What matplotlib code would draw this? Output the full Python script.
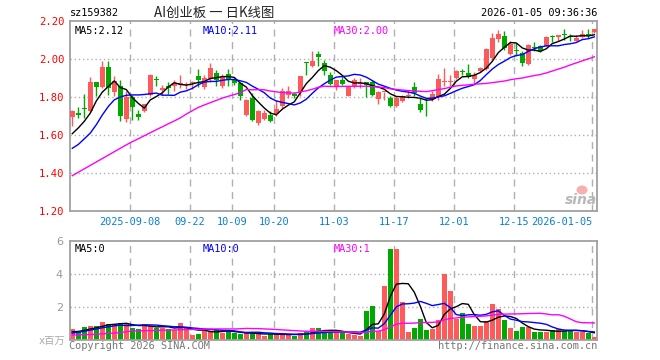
import numpy as np
import pandas as pd
import matplotlib
matplotlib.use("Agg")
import matplotlib.pyplot as plt
from matplotlib.patches import Ellipse

# ---- daily K-line of sz159382 (price: yuan, volume: millions) ----
opens = [1.693, 1.718, 1.744, 1.724, 1.877, 1.853, 1.956, 1.826, 1.860, 1.686,
         1.800, 1.709, 1.724, 1.810, 1.892, 1.839, 1.860, 1.860, 1.865, 1.862,
         1.872, 1.910, 1.853, 1.895, 1.928, 1.856, 1.922, 1.895, 1.874, 1.707,
         1.795, 1.663, 1.684, 1.707, 1.710, 1.755, 1.812, 1.816, 1.825, 1.984,
         1.961, 2.028, 1.979, 1.918, 1.860, 1.888, 1.807, 1.853, 1.867, 1.877,
         1.877, 1.789, 1.825, 1.795, 1.754, 1.777, 1.804, 1.853, 1.765, 1.749,
         1.790, 1.800, 1.881, 1.880, 1.900, 1.936, 1.926, 1.893, 1.935, 1.947,
         2.005, 2.107, 2.123, 2.026, 2.045, 2.032, 1.975, 2.062, 2.070, 2.070,
         2.117, 2.116, 2.129, 2.121, 2.093, 2.116, 2.133, 2.140]
highs = [1.733, 1.745, 1.816, 1.905, 1.880, 1.987, 1.990, 1.909, 1.890, 1.830,
         1.810, 1.733, 1.765, 1.920, 1.909, 1.865, 1.880, 1.890, 1.915, 1.880,
         1.885, 1.945, 1.915, 1.980, 1.940, 1.920, 1.950, 1.900, 1.880, 1.790,
         1.821, 1.730, 1.730, 1.725, 1.786, 1.848, 1.857, 1.825, 1.909, 1.984,
         2.040, 2.040, 1.993, 1.930, 1.891, 1.909, 1.860, 1.900, 1.900, 1.877,
         1.891, 1.830, 1.828, 1.804, 1.804, 1.812, 1.835, 1.877, 1.795, 1.795,
         1.830, 1.920, 1.953, 1.918, 1.944, 1.947, 1.975, 1.930, 1.960, 2.058,
         2.135, 2.154, 2.145, 2.095, 2.084, 2.040, 2.079, 2.090, 2.075, 2.123,
         2.128, 2.128, 2.158, 2.133, 2.128, 2.154, 2.158, 2.158]
lows = [1.650, 1.690, 1.690, 1.720, 1.803, 1.850, 1.810, 1.803, 1.675, 1.670,
        1.681, 1.680, 1.720, 1.805, 1.856, 1.812, 1.815, 1.832, 1.848, 1.840,
        1.840, 1.855, 1.840, 1.878, 1.860, 1.850, 1.860, 1.865, 1.785, 1.700,
        1.672, 1.655, 1.680, 1.667, 1.702, 1.742, 1.795, 1.795, 1.805, 1.918,
        1.958, 1.965, 1.918, 1.865, 1.835, 1.865, 1.804, 1.848, 1.848, 1.800,
        1.807, 1.761, 1.786, 1.750, 1.750, 1.772, 1.795, 1.807, 1.720, 1.702,
        1.777, 1.786, 1.856, 1.860, 1.893, 1.915, 1.900, 1.870, 1.932, 1.944,
        1.995, 2.090, 2.050, 2.020, 2.014, 1.962, 1.970, 2.042, 2.035, 2.067,
        2.088, 2.095, 2.102, 2.093, 2.093, 2.112, 2.112, 2.137]
closes = [1.724, 1.703, 1.737, 1.877, 1.853, 1.958, 1.850, 1.886, 1.702, 1.800,
          1.747, 1.697, 1.762, 1.917, 1.888, 1.847, 1.850, 1.875, 1.872, 1.868,
          1.878, 1.890, 1.898, 1.953, 1.890, 1.905, 1.893, 1.875, 1.804, 1.784,
          1.681, 1.725, 1.716, 1.672, 1.737, 1.830, 1.830, 1.804, 1.909, 1.979,
          1.991, 2.011, 1.935, 1.868, 1.888, 1.868, 1.856, 1.888, 1.874, 1.865,
          1.812, 1.825, 1.828, 1.754, 1.795, 1.804, 1.812, 1.823, 1.733, 1.745,
          1.815, 1.896, 1.884, 1.884, 1.935, 1.933, 1.904, 1.918, 1.953, 2.054,
          2.110, 2.132, 2.058, 2.079, 2.043, 1.979, 2.075, 2.060, 2.040, 2.116,
          2.115, 2.128, 2.127, 2.118, 2.110, 2.133, 2.119, 2.158]
volumes = [0.67, 0.50, 0.79, 0.87, 0.87, 1.11, 0.95, 0.95, 1.05, 1.00,
           0.71, 0.67, 0.97, 0.87, 0.75, 0.75, 0.67, 0.59, 1.03, 0.71,
           0.30, 0.38, 0.60, 0.55, 0.63, 0.42, 0.55, 0.40, 0.36, 0.40,
           0.40, 0.40, 0.26, 0.38, 0.34, 0.34, 0.34, 0.26, 0.40, 0.46,
           0.73, 0.73, 0.55, 0.46, 0.46, 0.46, 0.34, 0.30, 0.24, 1.76,
           2.06, 0.55, 3.27, 5.52, 5.52, 2.28, 0.46, 0.71, 1.25, 0.61,
           0.67, 1.21, 3.98, 2.97, 1.27, 1.62, 0.97, 0.85, 0.85, 1.15,
           2.18, 1.88, 1.21, 0.71, 0.55, 0.79, 0.79, 0.46, 0.46, 0.46,
           0.59, 0.67, 0.55, 0.59, 0.50, 0.50, 0.40, 0.20]

# moving-average values at the left edge (they use days before the window)
ma5_head = [1.607, 1.637, 1.672, 1.715]
ma10_head = [1.53, 1.55, 1.58, 1.61, 1.654, 1.705, 1.75, 1.785, 1.80]
ma30_head = [1.386, 1.404, 1.422, 1.440, 1.458, 1.476, 1.494, 1.512, 1.530, 1.548,
             1.565, 1.580, 1.596, 1.612, 1.628, 1.643, 1.659, 1.674, 1.690, 1.710,
             1.728, 1.745, 1.758, 1.770, 1.782, 1.794, 1.804, 1.813, 1.822]
vma5_head = [0.50, 0.52, 0.58, 0.67]
vma10_head = [0.42, 0.47, 0.53, 0.60, 0.67, 0.74, 0.80, 0.86, 0.90]
vma30_head = [0.30, 0.31, 0.32, 0.33, 0.35, 0.37, 0.40, 0.42, 0.45, 0.50,
              0.55, 0.55, 0.56, 0.57, 0.58, 0.59, 0.60, 0.61, 0.62, 0.63,
              0.64, 0.65, 0.66, 0.67, 0.67, 0.67, 0.67, 0.67, 0.68]

# latest MA readouts as printed on the chart
ma_text = ["MA5:2.12", "MA10:2.11", "MA30:2.00"]
vma_text = ["MA5:0", "MA10:0", "MA30:1"]

holidays = ["2025-10-01", "2025-10-02", "2025-10-03", "2025-10-06", "2025-10-07",
            "2025-10-08", "2026-01-01", "2026-01-02"]
tick_dates = ["2025-09-08", "2025-09-22", "2025-10-09", "2025-10-20", "2025-11-03",
              "2025-11-17", "2025-12-01", "2025-12-15", "2026-01-05"]
tick_labels = ["2025-09-08", "09-22", "10-09", "10-20", "11-03",
               "11-17", "12-01", "12-15", "2026-01-05"]

RED = "#ff5a5a"
GREEN = "#00a800"
GRID = "#b0b0b0"
FRAME = "#a0a0a0"
MA_COLORS = ["black", "#0000ff", "#ff00ff"]
MONO = "DejaVu Sans Mono"
CJK = ["Noto Sans CJK SC", "DejaVu Sans"]


def moving_avg(vals, n, head):
    vals = np.asarray(vals, dtype=float)
    tail = np.convolve(vals, np.ones(n) / n, mode="valid")
    return np.concatenate([head, tail])


days = pd.bdate_range("2025-08-25", "2026-01-05")
days = days[~days.isin(pd.to_datetime(holidays))]
x = np.arange(len(days))
tick_x = [days.get_loc(pd.Timestamp(d)) - 0.35 for d in tick_dates]

o, h, l, c = (np.asarray(a) for a in (opens, highs, lows, closes))
colors = np.where(c >= o, RED, GREEN)

W, H = 660, 360
fig = plt.figure(figsize=(W / 100, H / 100), dpi=100)
ax = fig.add_axes([70 / W, 1 - 211 / H, 527 / W, 190 / H])
axv = fig.add_axes([70 / W, 1 - 340 / H, 527 / W, 99 / H])

for a in (ax, axv):
    a.set_xlim(-0.38, 87.45)
    for s in a.spines.values():
        s.set_color(FRAME)
        s.set_linewidth(1.3)
    for t in tick_x:
        a.axvline(t, color=GRID, lw=1, ls=(0, (5, 4)), zorder=0)

# --- price panel ---
ax.set_ylim(1.2, 2.2)
for yv in (1.4, 1.6, 1.8, 2.0):
    ax.axhline(yv, color=GRID, lw=1, ls=(0, (1, 2)), zorder=0)
ax.vlines(x, l, h, colors=colors, lw=1, zorder=2)
body = np.maximum(np.abs(c - o), 0.005)
ax.bar(x, body, bottom=np.minimum(o, c), width=0.8, color=colors, lw=0, zorder=3)

mas = [moving_avg(closes, 5, ma5_head),
       moving_avg(closes, 10, ma10_head),
       moving_avg(closes, 30, ma30_head)]
for m, col in zip(mas, MA_COLORS):
    ax.plot(x, m, color=col, lw=1, zorder=4)

ax.set_yticks([1.2, 1.4, 1.6, 1.8, 2.0, 2.2])
ax.set_yticklabels(["1.20", "1.40", "1.60", "1.80", "2.00", "2.20"],
                   family=MONO, fontsize=7.6, color="#ff0000")
ax.set_xticks(tick_x)
xl = ax.set_xticklabels(tick_labels, family=MONO, fontsize=7.4, color="#0a80d0")
xl[-1].set_ha("right")
ax.tick_params(length=0, pad=4)

for txt, col, xa in zip(ma_text, MA_COLORS, (0.008, 0.252, 0.500)):
    ax.text(xa, 0.975, txt, transform=ax.transAxes, va="top",
            family=MONO, fontsize=7.4, color=col)

# sina watermark
fig.add_artist(Ellipse((582 / W, 1 - 190 / H), 11 / W, 9 / H,
                       transform=fig.transFigure, color="#f6b0b0", lw=0))
fig.text(581 / W, 1 - 200 / H, "sina", ha="center", va="center", fontsize=10,
         style="italic", weight="bold", color="#b8b8b8")

# --- volume panel ---
axv.set_ylim(0, 6)
for yv in (2, 4):
    axv.axhline(yv, color=GRID, lw=1, ls=(0, (1, 2)), zorder=0)
axv.bar(x, volumes, width=0.85, color=colors, lw=0, zorder=2)
vmas = [moving_avg(volumes, 5, vma5_head),
        moving_avg(volumes, 10, vma10_head),
        moving_avg(volumes, 30, vma30_head)]
for m, col in zip(vmas, MA_COLORS):
    axv.plot(x, m, color=col, lw=1, zorder=3)
axv.set_xticks([])
axv.set_yticks([2, 4, 6])
axv.set_yticklabels(["2", "4", "6"], fontsize=8, color="#999999")
axv.tick_params(length=0, pad=5)

for txt, col, xa in zip(vma_text, MA_COLORS, (0.008, 0.252, 0.500)):
    axv.text(xa, 0.965, txt, transform=axv.transAxes, va="top",
             family=MONO, fontsize=7.4, color=col)

# --- header / footer text ---
fig.text(70 / W, 1 - 13 / H, "sz159382", va="center", family=MONO, fontsize=7.4)
fig.text(214 / W, 1 - 13 / H, "AI创业板 一 日K线图", ha="center", va="center",
         family=CJK, fontsize=9.6, color="#222222")
fig.text(597 / W, 1 - 13 / H, "2026-01-05 09:36:36", ha="right", va="center",
         family=MONO, fontsize=7.4)
fig.text(65 / W, 1 - 341 / H, "x百万", ha="right", va="center",
         family=[MONO, "Noto Sans CJK SC"], fontsize=7.4, color="#aaaaaa")
fig.text(69 / W, 1 - 346 / H, "Copyright 2026 SINA.COM", va="center",
         family=MONO, fontsize=7.4, color="#777777")
fig.text(597 / W, 1 - 346 / H, "http://finance.sina.com.cn", ha="right", va="center",
         family=MONO, fontsize=7.4, color="#777777")

fig.savefig("out.png", dpi=100, facecolor="white")
